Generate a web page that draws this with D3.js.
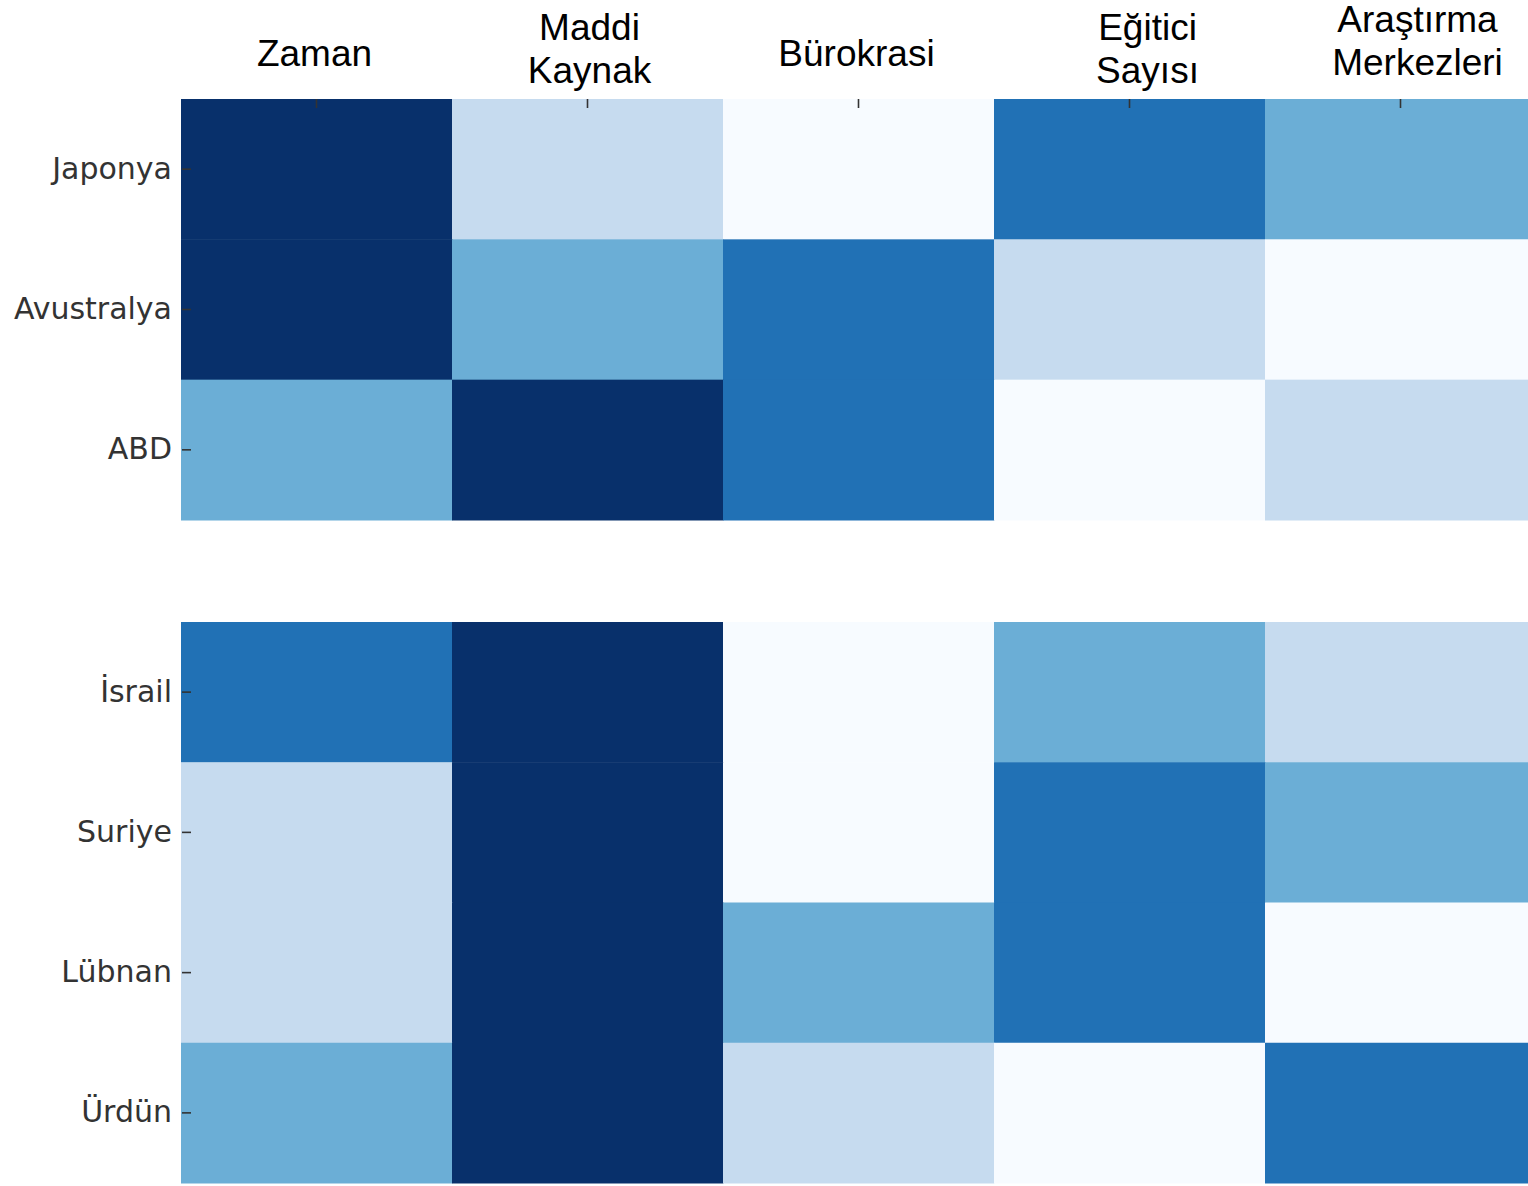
<!DOCTYPE html>
<html>
<head>
<meta charset="utf-8">
<script src="https://cdn.jsdelivr.net/npm/d3@7"></script>
<style>
  body { margin: 0; background: white; }
</style>
</head>
<body>
<svg id="chart" width="1528" height="1186"></svg>
<script>
// columns (manually placed headers, some on two lines)
var columns = ["Zaman", "Maddi Kaynak", "Bürokrasi", "Eğitici Sayısı", "Araştırma Merkezleri"];
var columnLines = [["Zaman"], ["Maddi", "Kaynak"], ["Bürokrasi"], ["Eğitici", "Sayısı"], ["Araştırma", "Merkezleri"]];

// two blocks of countries
var topRows = ["Japonya", "Avustralya", "ABD"];
var bottomRows = ["İsrail", "Suriye", "Lübnan", "Ürdün"];

// level 0..4 per column
var japonya    = [4, 1, 0, 3, 2];
var avustralya = [4, 2, 3, 1, 0];
var abd        = [2, 4, 3, 0, 1];
var israil     = [3, 4, 0, 2, 1];
var suriye     = [1, 4, 0, 3, 2];
var lubnan     = [1, 4, 2, 3, 0];
var urdun      = [2, 4, 1, 0, 3];

var levelColors = ["#f7fbff", "#c6dbef", "#6baed6", "#2171b5", "#08306b"];

var svg = d3.select("#chart");

// last column runs a bit past the right edge (cropped in the original)
var x = d3.scaleBand().domain(columns).range([181, 1536]);
var yTop = d3.scaleBand().domain(topRows).range([99, 520]);
var yBottom = d3.scaleBand().domain(bottomRows).range([622, 1183]);
var color = d3.scaleOrdinal().domain([0, 1, 2, 3, 4]).range(levelColors);

var cells = [];
[[topRows, [japonya, avustralya, abd], yTop], [bottomRows, [israil, suriye, lubnan, urdun], yBottom]]
  .forEach(function(block) {
    block[0].forEach(function(r, i) {
      block[1][i].forEach(function(v, j) {
        cells.push({ row: r, col: columns[j], value: v, y: block[2] });
      });
    });
  });

// heatmap cells
svg.append("g").selectAll("rect")
  .data(cells)
  .enter()
  .append("rect")
  .attr("x", d => x(d.col))
  .attr("y", d => d.y(d.row))
  .attr("width", x.bandwidth() + 0.5)
  .attr("height", d => d.y.bandwidth() + 0.5)
  .style("fill", d => color(d.value))
  ;

// row labels + ticks
function drawRows(scale) {
  var g = svg.append("g")
    .attr("transform", "translate(191,0)")
    .call(d3.axisLeft(scale).tickSize(9).tickPadding(10));
  g.select(".domain").remove();
  g.selectAll(".tick line").attr("stroke", "#333").attr("stroke-width", 1.6);
  g.selectAll(".tick text")
    .attr("font-family", "DejaVu Sans")
    .attr("font-size", "30px")
    .attr("fill", "#333");
}
drawRows(yTop);
drawRows(yBottom);

// small ticks on top edge
svg.append("g").selectAll("line")
  .data(columns)
  .enter()
  .append("line")
  .attr("x1", d => x(d) + x.bandwidth() / 2)
  .attr("x2", d => x(d) + x.bandwidth() / 2)
  .attr("y1", 99)
  .attr("y2", 108)
  .attr("stroke", "#333")
  .attr("stroke-width", 1.6)
  ;

// column headers
var headerShift = [-2, 2, -2, 18, 17];
var header = svg.append("g").selectAll("text")
  .data(columnLines)
  .enter()
  .append("text")
  .attr("text-anchor", "middle")
  .attr("font-family", "Liberation Sans, Arial, sans-serif")
  .attr("font-size", "37px")
  .attr("fill", "black")
  .attr("transform", function(d, i) {
    var cx = x(columns[i]) + x.bandwidth() / 2 + headerShift[i];
    var cy = d.length == 1 ? 66 : (i == 4 ? 32 : 40);
    return "translate(" + cx + "," + cy + ")";
  });
header.selectAll("tspan")
  .data(d => d)
  .enter()
  .append("tspan")
  .attr("x", 0)
  .attr("dy", (d, i) => i == 0 ? 0 : 43)
  .text(d => d);
</script>
</body>
</html>
